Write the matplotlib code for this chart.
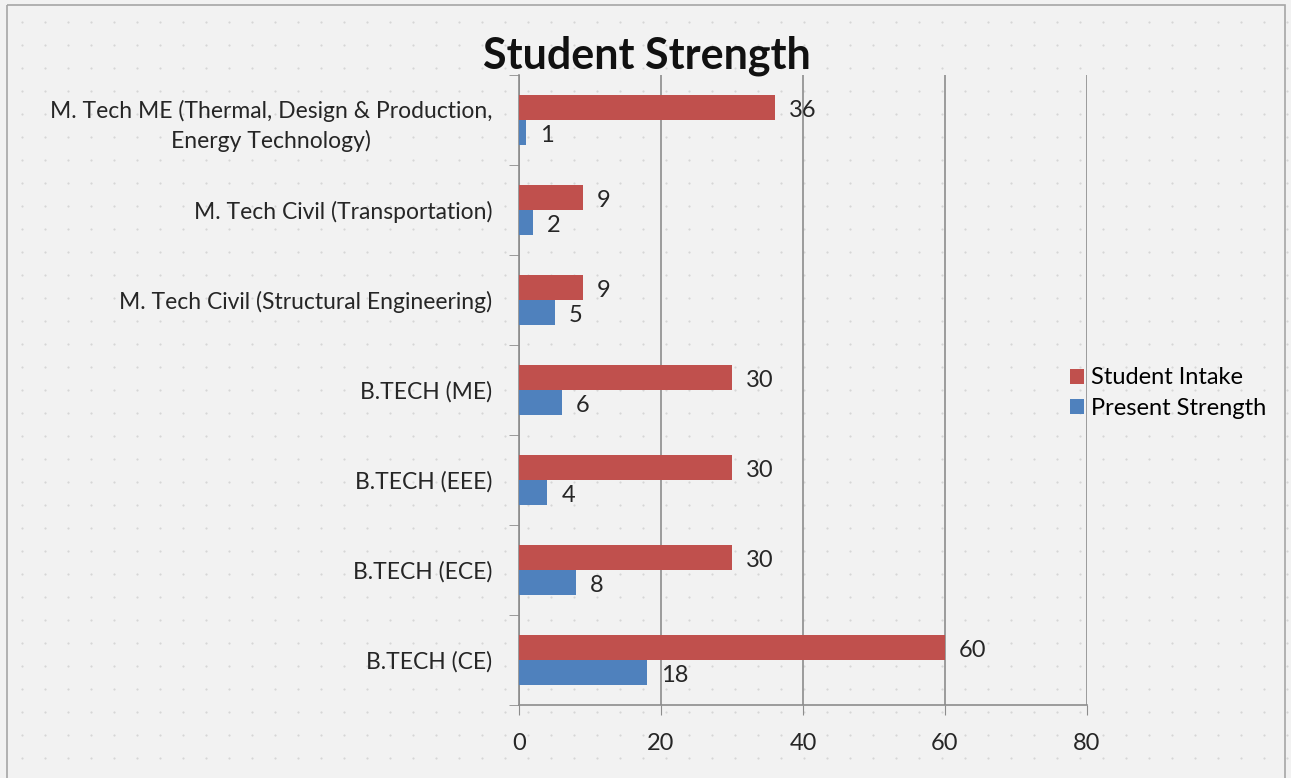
import numpy as np
import matplotlib.pyplot as plt
from matplotlib.patches import Rectangle

# categories listed bottom to top as they appear on the chart
categories = [
    "B.TECH (CE)",
    "B.TECH (ECE)",
    "B.TECH (EEE)",
    "B.TECH (ME)",
    "M. Tech Civil (Structural Engineering)",
    "M. Tech Civil (Transportation)",
    "M. Tech ME (Thermal, Design & Production,\nEnergy Technology)",
]
student_intake = [60, 30, 30, 30, 9, 9, 36]
present_strength = [18, 8, 4, 6, 5, 2, 1]

RED = "#C0504D"
BLUE = "#4F81BD"
BG = "#F2F2F2"
GRID = "#8C8C8C"
TXT = "#262626"

plt.rcParams["font.family"] = ["Lato", "DejaVu Sans"]

fig = plt.figure(figsize=(12.91, 7.78), dpi=100, facecolor=BG)

# dotted backdrop and frame
bg = fig.add_axes([0, 0, 1, 1], zorder=-10)
bg.set_xlim(0, 1291)
bg.set_ylim(778, 0)
bg.axis("off")
gx, gy = np.meshgrid(np.arange(22, 1291, 23), np.arange(22, 778, 23))
bg.scatter(gx.ravel(), gy.ravel(), s=2.5, color="#D6D6D6", linewidths=0)
bg.add_patch(Rectangle((7, 5), 1278, 790, fill=False, edgecolor="#A6A6A6", lw=1.2))

ax = fig.add_axes([519 / 1291, 73 / 778, 568 / 1291, 630 / 778])
ax.set_facecolor("none")

y = np.arange(len(categories))
h = 0.28
r_bars = ax.barh(y + h / 2, student_intake, height=h, color=RED, label="Student Intake", zorder=3)
b_bars = ax.barh(y - h / 2, present_strength, height=h, color=BLUE, label="Present Strength", zorder=3)

for bars in (r_bars, b_bars):
    for bar in bars:
        w = bar.get_width()
        ax.annotate(f"{w:g}", (w, bar.get_y() + bar.get_height() / 2),
                    xytext=(10, -2), textcoords="offset points",
                    ha="left", va="center", fontsize=17, color=TXT, zorder=4)

ax.set_xlim(0, 80)
ax.set_ylim(-0.5, len(categories) - 0.5)
ax.set_xticks([0, 20, 40, 60, 80])
ax.tick_params(axis="x", labelsize=17, length=7, color=GRID, pad=13, labelcolor=TXT)
ax.xaxis.grid(True, color=GRID, lw=1.2, zorder=0)
ax.set_axisbelow(True)

ax.set_yticks(y)
ax.set_yticklabels(categories, fontsize=16.5, color=TXT, multialignment="center",
                   linespacing=1.45)
ax.tick_params(axis="y", which="major", length=0, pad=19)
ax.set_yticks(np.arange(-0.5, len(categories), 1), minor=True)
ax.tick_params(axis="y", which="minor", length=7, color=GRID)

for side in ("top", "right"):
    ax.spines[side].set_visible(False)
for side in ("left", "bottom"):
    ax.spines[side].set_color(GRID)
    ax.spines[side].set_linewidth(1.2)

fig.text(647 / 1291, 1 - 56 / 778, "Student Strength", ha="center", va="center",
         fontsize=31, fontweight="bold", color="#111111")

ax.legend(loc="center left", bbox_to_anchor=(0.97, 0.495), frameon=False, fontsize=17,
          handlelength=0.6, handleheight=0.6, handletextpad=0.3, labelspacing=0.4,
          borderaxespad=0, borderpad=0)

fig.savefig("out.png", dpi=100, facecolor=BG)
